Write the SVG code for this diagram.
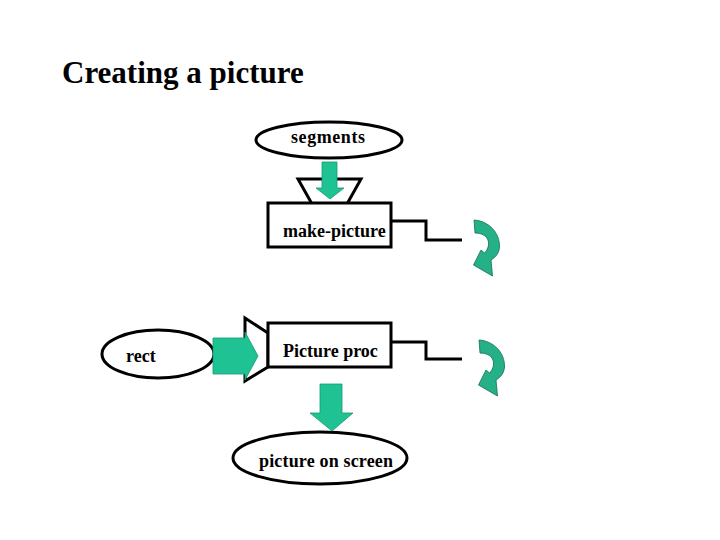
<svg xmlns="http://www.w3.org/2000/svg" width="720" height="540" viewBox="0 0 720 540">
<defs>
<style>
.shape{fill:#fff;stroke:#000;stroke-width:3}
.lbl{font-family:"Liberation Serif","Times New Roman",serif;font-weight:bold;font-size:18px;fill:#000}
.title{font-family:"Liberation Serif","Times New Roman",serif;font-weight:bold;font-size:31px;fill:#000}
.garrow{fill:#1fc293;stroke:#159a72;stroke-width:0.8}
.carrow{fill:#25b088;stroke:#0f6f55;stroke-width:0.8}
.conn{fill:none;stroke:#000;stroke-width:3}
</style>
<path id="curl" class="carrow" d="M9,5 C24,6 35,18 34.5,32 C34,38 31,42 26,45 L27.5,61 L8.5,50 L16,35 L19.5,38 C22.5,35 24,31 23.5,27 C22.5,21 17,18 10,18 Z"/>
</defs>
<rect width="720" height="540" fill="#fff"/>
<text class="title" x="62" y="83">Creating a picture</text>

<g id="segments">
<ellipse class="shape" cx="329" cy="140" rx="73" ry="18"/>
<text class="lbl" x="291" y="143" textLength="74" lengthAdjust="spacing">segments</text>
</g>

<g id="make-picture">
<polygon class="shape" points="298,179 361,179 347,204 312,204"/>
<rect class="shape" x="268" y="203" width="123" height="44"/>
<text class="lbl" x="283" y="237">make-picture</text>
</g>

<g id="rect">
<ellipse class="shape" cx="158" cy="354" rx="56" ry="24"/>
<text class="lbl" x="126" y="362">rect</text>
</g>

<g id="picture-proc">
<polygon class="shape" points="245,318 268,333 268,367 245,381"/>
<rect class="shape" x="268" y="323" width="123" height="44"/>
<text class="lbl" x="283" y="357">Picture proc</text>
</g>

<g id="picture-on-screen">
<ellipse class="shape" cx="320" cy="458" rx="87" ry="26"/>
<text class="lbl" x="259" y="467" textLength="134" lengthAdjust="spacing">picture on screen</text>
</g>

<g id="connectors">
<polygon class="garrow" points="322,162 337,162 337,188 344,188 330,199 316,188 322,188"/>
<polygon class="garrow" points="213,338 245,338 245,332 258,356 245,380 245,374 213,374"/>
<polygon class="garrow" points="320,384 342,384 342,413 353,413 332,431 310,413 320,413"/>
<polyline class="conn" points="391,221 426,221 426,240 462,240"/>
<polyline class="conn" points="391,342 426,342 426,359 462,359"/>
<use href="#curl" transform="translate(465,215)"/>
<use href="#curl" transform="translate(470,335)"/>
</g>
</svg>
